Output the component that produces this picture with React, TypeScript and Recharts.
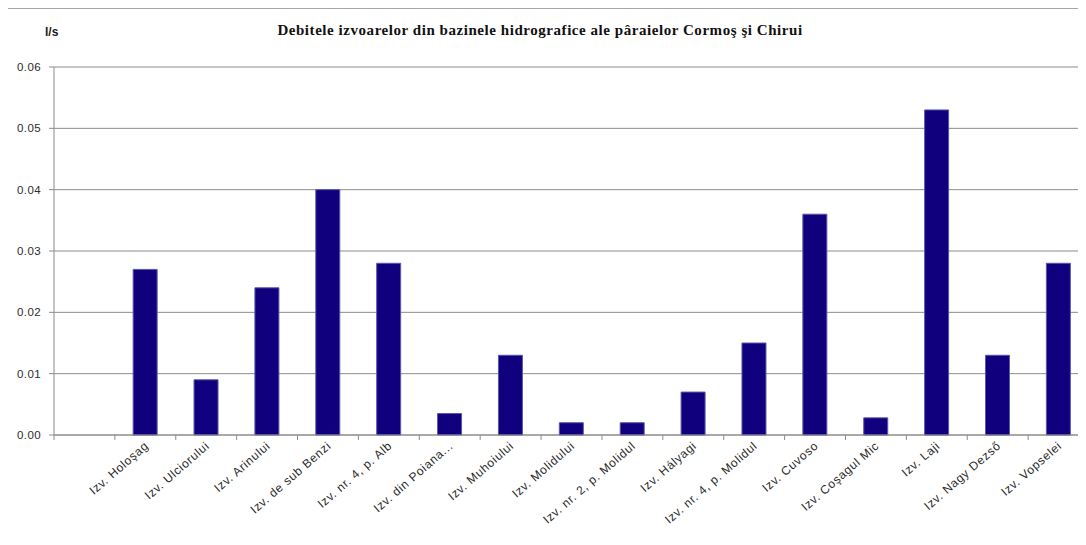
import React from "react"
import { BarChart, Bar, XAxis, YAxis, CartesianGrid } from "recharts"

// izvoare (primul slot e gol, ca in original)
const springs = [
  "",
  "Izv. Holoşag",
  "Izv. Ulciorului",
  "Izv. Arinului",
  "Izv. de sub Benzi",
  "Izv. nr. 4, p. Alb",
  "Izv. din Poiana...",
  "Izv. Muhoiului",
  "Izv. Molidului",
  "Izv. nr. 2, p. Molidul",
  "Izv. Hályagi",
  "Izv. nr. 4, p. Molidul",
  "Izv. Cuvoso",
  "Izv. Coşagul Mic",
  "Izv. Laji",
  "Izv. Nagy Dezső",
  "Izv. Vopselei",
]

// debite in l/s
const flows: (number | null)[] = [
  null, 0.027, 0.009, 0.024, 0.04, 0.028, 0.0035, 0.013, 0.002, 0.002,
  0.007, 0.015, 0.036, 0.0028, 0.053, 0.013, 0.028,
]

const yTicks = [0, 0.01, 0.02, 0.03, 0.04, 0.05, 0.06]

const chartData = springs.map((name, i) => ({ name, flow: flows[i] }))

const CHART_W = 1100
const CHART_H = 545
const PLOT_LEFT = 54
const PLOT_RIGHT_MARGIN = 11
const halfBand = (CHART_W - PLOT_LEFT - PLOT_RIGHT_MARGIN) / springs.length / 2

const grid = "#8c8c8c"
const labelFont = "'Liberation Sans', Arial, sans-serif"

function SpringTick(props: any) {
  const { x, y, payload } = props
  const bx = x - halfBand
  const tx = x + 4
  const ty = y + 12
  return (
    <g>
      <line x1={bx} y1={y} x2={bx} y2={y + 5} stroke={grid} />
      <text
        x={tx}
        y={ty}
        transform={`rotate(-41 ${tx} ${ty})`}
        textAnchor="end"
        fontSize={12}
        letterSpacing={0.7}
        fontFamily={labelFont}
        fill="#2b2b2b"
      >
        {payload.value}
      </text>
    </g>
  )
}

export default function App() {
  return (
    <div style={{ margin: -8, width: 1086, height: 545, overflow: "hidden", position: "relative", background: "#fff" }}>
      <div
        style={{
          position: "absolute",
          left: 6,
          top: 8,
          width: 1200,
          height: 700,
          border: "1px solid #a6a6a6",
        }}
      />
      <div
        style={{
          position: "absolute",
          left: 0,
          width: 1080,
          top: 22,
          textAlign: "center",
          fontFamily: "'Liberation Serif', 'Times New Roman', serif",
          fontWeight: "bold",
          fontSize: 15,
          letterSpacing: 0.55,
          color: "#111",
        }}
      >
        Debitele izvoarelor din bazinele hidrografice ale pâraielor Cormoş şi Chirui
      </div>
      <div
        style={{
          position: "absolute",
          left: 45,
          top: 25,
          fontFamily: labelFont,
          fontWeight: "bold",
          fontSize: 12,
          color: "#1a1a1a",
        }}
      >
        l/s
      </div>
      <div style={{ position: "absolute", left: 0, top: 0 }}>
        <BarChart
          width={CHART_W}
          height={CHART_H}
          data={chartData}
          margin={{ top: 67, right: PLOT_RIGHT_MARGIN, left: 0, bottom: 0 }}
          barCategoryGap="30%"
        >
          <CartesianGrid vertical={false} stroke={grid} strokeDasharray="" />
          <XAxis
            dataKey="name"
            interval={0}
            height={110}
            axisLine={{ stroke: grid }}
            tickLine={false}
            tickSize={0}
            tickMargin={0}
            tick={<SpringTick />}
          />
          <YAxis
            width={PLOT_LEFT}
            domain={[0, 0.06]}
            ticks={yTicks}
            interval={0}
            tickFormatter={(v: number) => v.toFixed(2)}
            axisLine={{ stroke: grid }}
            tickLine={{ stroke: grid }}
            tickSize={5}
            tickMargin={8}
            tick={{ fontSize: 11.5, fill: "#2b2b2b", fontFamily: labelFont, letterSpacing: 0.4 }}
          />
          <Bar dataKey="flow" fill="#10007e" stroke="#5a58a8" strokeWidth={1} isAnimationActive={false} />
        </BarChart>
      </div>
    </div>
  )
}
